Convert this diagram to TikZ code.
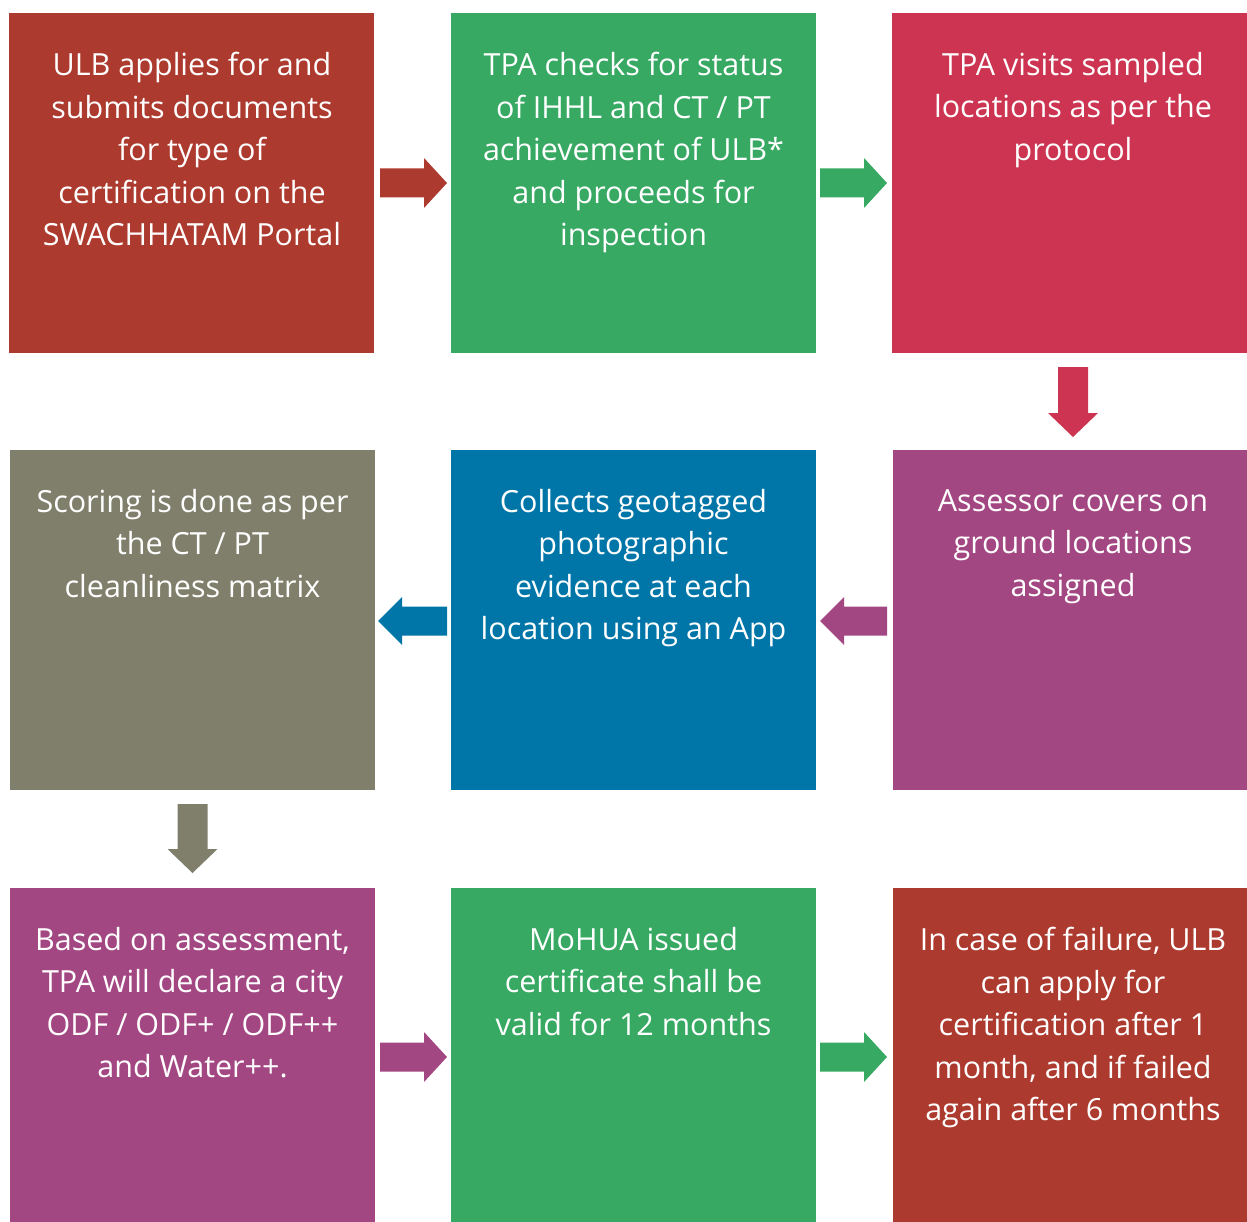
\documentclass[tikz,border=0pt]{standalone}
\usepackage{fontspec}
\setmainfont{Open Sans}
\usetikzlibrary{calc}
\definecolor{cRed}{HTML}{AD3A2E}
\definecolor{cGreen}{HTML}{37A963}
\definecolor{cCrimson}{HTML}{CD3451}
\definecolor{cPurple}{HTML}{A34783}
\definecolor{cBlue}{HTML}{0076A8}
\definecolor{cGrey}{HTML}{7F7F6B}
\newcommand\arrR[3]{\fill[#3] let \p1=(#1), \p2=(#2) in (\x1,\y1+14.5pt) -- (\x2-23pt,\y1+14.5pt) -- (\x2-23pt,\y1+25pt) -- (\x2,\y1) -- (\x2-23pt,\y1-25pt) -- (\x2-23pt,\y1-14.5pt) -- (\x1,\y1-14.5pt) -- cycle;}
\newcommand\arrL[3]{\fill[#3] let \p1=(#1), \p2=(#2) in (\x1,\y1+14.5pt) -- (\x2+24pt,\y1+14.5pt) -- (\x2+24pt,\y1+24pt) -- (\x2,\y1) -- (\x2+24pt,\y1-24pt) -- (\x2+24pt,\y1-14.5pt) -- (\x1,\y1-14.5pt) -- cycle;}
\newcommand\arrD[3]{\fill[#3] let \p1=(#1), \p2=(#2) in (\x1-15pt,\y1) -- (\x1-15pt,\y2+24pt) -- (\x1-25pt,\y2+24pt) -- (\x1,\y2) -- (\x1+25pt,\y2+24pt) -- (\x1+15pt,\y2+24pt) -- (\x1+15pt,\y1) -- cycle;}
\tikzset{
  box/.style={anchor=north west, inner sep=0pt, outer sep=0pt},
  txt/.style={anchor=north, inner sep=0pt, text=white, align=center, font=\fontsize{30.5}{42.5}\selectfont}
}
\begin{document}
\begin{tikzpicture}[x=1pt,y=1pt]
\useasboundingbox (0,0) rectangle (1247,-1222);
% row 1
\node[box, fill=cRed, minimum width=365, minimum height=340] (A) at (9,-13) {};
\node[box, fill=cGreen, minimum width=365, minimum height=340] (B) at (451,-13) {};
\node[box, fill=cCrimson, minimum width=362, minimum height=340] (C) at (892,-13) {};
% row 2
\node[box, fill=cGrey, minimum width=365, minimum height=340] (F) at (10,-450) {};
\node[box, fill=cBlue, minimum width=365, minimum height=340] (E) at (451,-450) {};
\node[box, fill=cPurple, minimum width=361, minimum height=340] (D) at (893,-450) {};
% row 3
\node[box, fill=cPurple, minimum width=365, minimum height=334] (G) at (10,-888) {};
\node[box, fill=cGreen, minimum width=365, minimum height=334] (H) at (451,-888) {};
\node[box, fill=cRed, minimum width=361, minimum height=334] (I) at (893,-888) {};
% texts
\node[txt] (tA) at (192,-52) {ULB applies for and\\submits documents\\for type of\\certification on the\\SWACHHATAM Portal};
\node[txt] (tB) at (633.5,-52) {TPA checks for status\\of IHHL and CT / PT\\achievement of ULB*\\and proceeds for\\inspection};
\node[txt] (tC) at (1073,-52) {TPA visits sampled\\locations as per the\\protocol};
\node[txt] (tD) at (1073,-489) {Assessor covers on\\ground locations\\assigned};
\node[txt] (tE) at (633.5,-489) {Collects geotagged\\photographic\\evidence at each\\location using an App};
\node[txt] (tF) at (192.5,-489) {Scoring is done as per\\the CT / PT\\cleanliness matrix};
\node[txt] (tG) at (192.5,-927) {Based on assessment,\\TPA will declare a city\\ODF / ODF+ / ODF++\\and Water++.};
\node[txt] (tH) at (633.5,-927) {MoHUA issued\\certificate shall be\\valid for 12 months};
\node[txt] (tI) at (1073,-927) {In case of failure, ULB\\can apply for\\certification after 1\\month, and if failed\\again after 6 months};
% arrow end points
\coordinate (a1s) at ($(A.east)+(6,0)$);  \coordinate (a1e) at ($(B.west)+(-4,0)$);
\coordinate (a2s) at ($(B.east)+(4,0)$);  \coordinate (a2e) at ($(C.west)+(-5,0)$);
\coordinate (a3s) at (1073,-367);         \coordinate (a3e) at (1073,-437);
\coordinate (a4s) at ($(D.west)+(-6,-1)$); \coordinate (a4e) at ($(E.east)+(4,-1)$);
\coordinate (a5s) at ($(E.west)+(-4,-1)$); \coordinate (a5e) at ($(F.east)+(3,-1)$);
\coordinate (a6s) at (192.5,-804);        \coordinate (a6e) at (192.5,-873);
\coordinate (a7s) at ($(G.east)+(5,-2)$); \coordinate (a7e) at ($(H.west)+(-4,-2)$);
\coordinate (a8s) at ($(H.east)+(4,-2)$); \coordinate (a8e) at ($(I.west)+(-6,-2)$);
\arrR{a1s}{a1e}{cRed}
\arrR{a2s}{a2e}{cGreen}
\arrD{a3s}{a3e}{cCrimson}
\arrL{a4s}{a4e}{cPurple}
\arrL{a5s}{a5e}{cBlue}
\arrD{a6s}{a6e}{cGrey}
\arrR{a7s}{a7e}{cPurple}
\arrR{a8s}{a8e}{cGreen}
\end{tikzpicture}
\end{document}
